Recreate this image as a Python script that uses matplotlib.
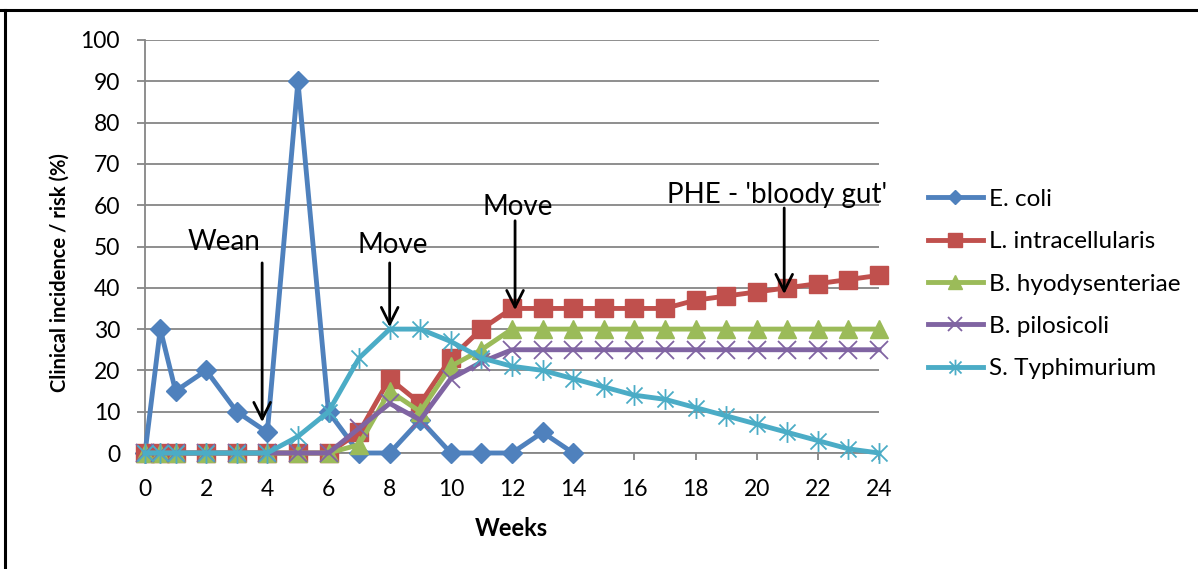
import matplotlib
matplotlib.use("Agg")
import matplotlib.pyplot as plt
from matplotlib.path import Path
from matplotlib.lines import Line2D

plt.rcParams['font.family'] = ['Lato', 'DejaVu Sans']

# Data (weeks, % incidence)
weeks = [0, 0.5, 1, 2, 3, 4, 5, 6, 7, 8, 9, 10, 11, 12, 13, 14, 15, 16,
         17, 18, 19, 20, 21, 22, 23, 24]
ecoli_weeks = weeks[:16]
ecoli = [0, 30, 15, 20, 10, 5, 90, 10, 0, 0, 8, 0, 0, 0, 5, 0]
l_intra = [0, 0, 0, 0, 0, 0, 0, 0, 5, 18, 12, 23, 30, 35, 35, 35, 35, 35,
           35, 37, 38, 39, 40, 41, 42, 43]
b_hyo = [0, 0, 0, 0, 0, 0, 0, 0, 2, 15, 10, 21, 25, 30, 30, 30, 30, 30,
         30, 30, 30, 30, 30, 30, 30, 30]
b_pilo = [0, 0, 0, 0, 0, 0, 0, 0, 6, 12, 8, 18, 22, 25, 25, 25, 25, 25,
          25, 25, 25, 25, 25, 25, 25, 25]
s_typh = [0, 0, 0, 0, 0, 0, 4, 10, 23, 30, 30, 27, 23, 21, 20, 18, 16, 14,
          13, 11, 9, 7, 5, 3, 1, 0]

# Excel-style star: an x with a vertical bar
star = Path([(-1, -1), (1, 1), (-1, 1), (1, -1), (0, -1.3), (0, 1.3)],
            [Path.MOVETO, Path.LINETO, Path.MOVETO, Path.LINETO,
             Path.MOVETO, Path.LINETO])

fig = plt.figure(figsize=(11.98, 5.69), dpi=100)
ax = fig.add_axes([145/1198, 1-453/569, 734/1198, 413/569])

lw = 3.5
ax.plot(ecoli_weeks, ecoli, color='#4F81BD', lw=lw, marker='D', ms=10,
        label='E. coli', zorder=3, clip_on=False)
ax.plot(weeks, l_intra, color='#C0504D', lw=lw, marker='s', ms=13,
        label='L. intracellularis', zorder=3, clip_on=False)
ax.plot(weeks, b_hyo, color='#9BBB59', lw=lw, marker='^', ms=13,
        label='B. hyodysenteriae', zorder=3, clip_on=False)
ax.plot(weeks, b_pilo, color='#8064A2', lw=lw, marker='x', ms=13, mew=1.3,
        label='B. pilosicoli', zorder=3, clip_on=False)
ax.plot(weeks, s_typh, color='#4BACC6', lw=lw, marker=star, ms=15, mew=1.3,
        mfc='none', label='S. Typhimurium', zorder=3, clip_on=False)

ax.set_xlim(0, 24)
ax.set_ylim(0, 100)
ax.set_xticks(range(0, 25, 2))
ax.set_yticks(range(0, 101, 10))
ax.grid(axis='y', color='#868686', lw=1.3)
ax.set_axisbelow(True)
for s in ['top', 'right']:
    ax.spines[s].set_visible(False)
for s in ['left', 'bottom']:
    ax.spines[s].set_color('#868686')
    ax.spines[s].set_linewidth(1.3)
ax.tick_params(axis='y', length=6, width=1.3, color='#868686', pad=12,
               labelsize=16.5)
ax.tick_params(axis='x', length=5, width=1.3, color='#868686', pad=14,
               labelsize=16.5)

ax.set_ylabel('Clinical incidence / risk (%)', fontsize=14.5, fontweight='bold')
ax.yaxis.set_label_coords(-0.102, 0.437)
ax.set_xlabel('Weeks', fontsize=17, fontweight='bold')
ax.xaxis.set_label_coords(0.4986, -0.155)

# event annotations
arrow = dict(arrowstyle='->', lw=2, color='black', mutation_scale=30)
ax.annotate('', xy=(3.83, 6.8), xytext=(3.83, 46.7), arrowprops=arrow)
ax.text(2.58, 51, 'Wean', fontsize=20, ha='center', va='center')
ax.annotate('', xy=(8.0, 29.8), xytext=(8.0, 46.7), arrowprops=arrow)
ax.text(8.1, 50.4, 'Move', fontsize=20, ha='center', va='center')
ax.annotate('', xy=(12.1, 33.9), xytext=(12.1, 56.9), arrowprops=arrow)
ax.text(12.2, 59.6, 'Move', fontsize=20, ha='center', va='center')
ax.annotate('', xy=(20.9, 37.8), xytext=(20.9, 60.0), arrowprops=arrow)
ax.text(20.67, 62.5, "PHE - 'bloody gut'", fontsize=20, ha='center',
        va='center')

fig.legend(loc='center left', bbox_to_anchor=(928/1198, 1-284/569),
           frameon=False, fontsize=17.5, handlelength=2.25, handletextpad=0.25,
           labelspacing=0.88, borderpad=0, borderaxespad=0, markerscale=0.75)

# frame lines (top and left) of the original figure box
fig.add_artist(Line2D([0, 1], [1-10/569, 1-10/569], color='black', lw=2.2))
fig.add_artist(Line2D([5/1198, 5/1198], [0, 1-10/569], color='black', lw=2.2))

fig.savefig('out.png', dpi=100)
